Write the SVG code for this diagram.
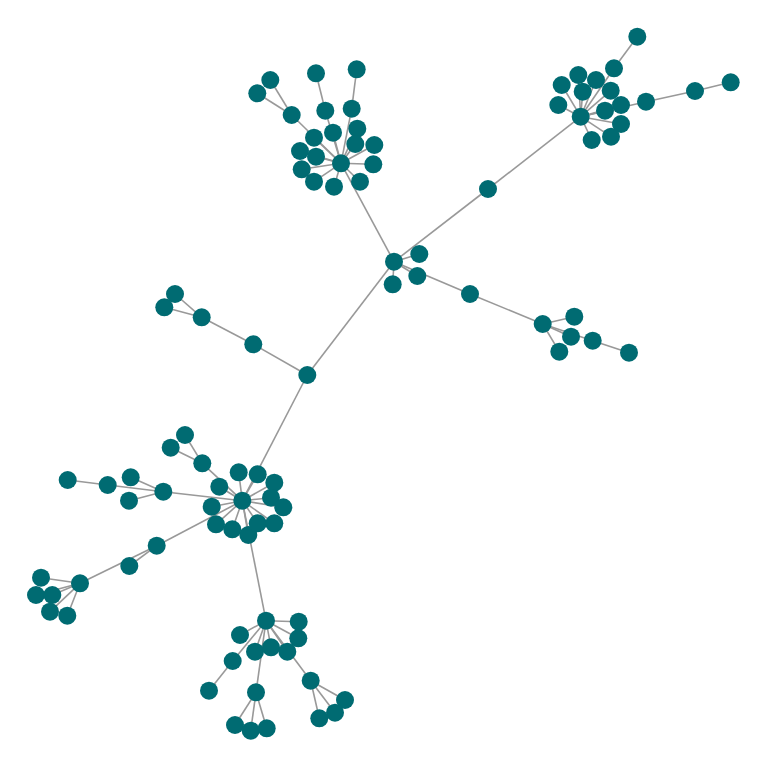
<svg xmlns="http://www.w3.org/2000/svg" width="768" height="768" viewBox="0 0 768 768">
<style>
.e{stroke:#999;stroke-width:1.6;fill:none}
.n{fill:#006b72}
</style>
<rect width="768" height="768" fill="#fff"/>
<g id="connectors" class="e">
<line x1="394" y1="261.7" x2="341" y2="163.3"/>
<line x1="394" y1="261.7" x2="488" y2="189"/>
<line x1="488" y1="189" x2="580.7" y2="116.7"/>
<line x1="394" y1="261.7" x2="419.3" y2="254"/>
<line x1="394" y1="261.7" x2="392.7" y2="284.3"/>
<line x1="394" y1="261.7" x2="417.3" y2="276"/>
<line x1="394" y1="261.7" x2="470" y2="294"/>
<line x1="394" y1="261.7" x2="307.3" y2="375"/>
<line x1="470" y1="294" x2="542.7" y2="324"/>
<line x1="542.7" y1="324" x2="574.3" y2="316.7"/>
<line x1="542.7" y1="324" x2="571" y2="336.7"/>
<line x1="542.7" y1="324" x2="559.3" y2="351.7"/>
<line x1="542.7" y1="324" x2="592.7" y2="340.7"/>
<line x1="592.7" y1="340.7" x2="629" y2="352.7"/>
<line x1="307.3" y1="375" x2="253.3" y2="344.3"/>
<line x1="253.3" y1="344.3" x2="201.7" y2="317.3"/>
<line x1="201.7" y1="317.3" x2="175" y2="294"/>
<line x1="201.7" y1="317.3" x2="164.3" y2="307.3"/>
<line x1="307.3" y1="375" x2="242.3" y2="500.7"/>
<line x1="341" y1="163.3" x2="291.7" y2="115"/>
<line x1="291.7" y1="115" x2="270.3" y2="80"/>
<line x1="291.7" y1="115" x2="257.3" y2="93.3"/>
<line x1="341" y1="163.3" x2="314" y2="137.7"/>
<line x1="341" y1="163.3" x2="325.3" y2="110.7"/>
<line x1="325.3" y1="110.7" x2="316" y2="73.3"/>
<line x1="341" y1="163.3" x2="333" y2="132.7"/>
<line x1="341" y1="163.3" x2="351.7" y2="108.7"/>
<line x1="351.7" y1="108.7" x2="356.7" y2="69.3"/>
<line x1="341" y1="163.3" x2="357.3" y2="128.7"/>
<line x1="341" y1="163.3" x2="355.3" y2="144"/>
<line x1="341" y1="163.3" x2="374.3" y2="145"/>
<line x1="341" y1="163.3" x2="300" y2="151"/>
<line x1="341" y1="163.3" x2="316" y2="156.7"/>
<line x1="341" y1="163.3" x2="373.3" y2="164.3"/>
<line x1="341" y1="163.3" x2="301.7" y2="169.3"/>
<line x1="341" y1="163.3" x2="314" y2="181.7"/>
<line x1="341" y1="163.3" x2="334" y2="186.7"/>
<line x1="341" y1="163.3" x2="360" y2="181.7"/>
<line x1="580.7" y1="116.7" x2="614" y2="68.3"/>
<line x1="614" y1="68.3" x2="637.3" y2="36.7"/>
<line x1="580.7" y1="116.7" x2="578.3" y2="75"/>
<line x1="580.7" y1="116.7" x2="596" y2="80"/>
<line x1="580.7" y1="116.7" x2="561.7" y2="85"/>
<line x1="580.7" y1="116.7" x2="582.7" y2="91.7"/>
<line x1="580.7" y1="116.7" x2="610.7" y2="90.7"/>
<line x1="580.7" y1="116.7" x2="558.3" y2="105"/>
<line x1="580.7" y1="116.7" x2="605" y2="110.7"/>
<line x1="580.7" y1="116.7" x2="621" y2="105"/>
<line x1="580.7" y1="116.7" x2="646" y2="101.7"/>
<line x1="646" y1="101.7" x2="695" y2="91"/>
<line x1="695" y1="91" x2="730.7" y2="82.3"/>
<line x1="580.7" y1="116.7" x2="621" y2="124"/>
<line x1="580.7" y1="116.7" x2="591.7" y2="140"/>
<line x1="580.7" y1="116.7" x2="611" y2="136.7"/>
<line x1="242.3" y1="500.7" x2="202.3" y2="463.3"/>
<line x1="202.3" y1="463.3" x2="185" y2="435"/>
<line x1="202.3" y1="463.3" x2="170.7" y2="447.7"/>
<line x1="242.3" y1="500.7" x2="163.3" y2="491.7"/>
<line x1="163.3" y1="491.7" x2="107.7" y2="485"/>
<line x1="107.7" y1="485" x2="67.7" y2="480"/>
<line x1="163.3" y1="491.7" x2="130.7" y2="477.3"/>
<line x1="163.3" y1="491.7" x2="129" y2="500.7"/>
<line x1="242.3" y1="500.7" x2="219.3" y2="486.7"/>
<line x1="242.3" y1="500.7" x2="238.7" y2="472.3"/>
<line x1="242.3" y1="500.7" x2="257.7" y2="474.3"/>
<line x1="242.3" y1="500.7" x2="274.3" y2="482.7"/>
<line x1="242.3" y1="500.7" x2="211.7" y2="506.7"/>
<line x1="242.3" y1="500.7" x2="271" y2="497.7"/>
<line x1="242.3" y1="500.7" x2="283.3" y2="507.3"/>
<line x1="242.3" y1="500.7" x2="216" y2="524.3"/>
<line x1="242.3" y1="500.7" x2="232.3" y2="529.3"/>
<line x1="242.3" y1="500.7" x2="248.3" y2="535"/>
<line x1="242.3" y1="500.7" x2="257.7" y2="523.3"/>
<line x1="242.3" y1="500.7" x2="274.3" y2="523.3"/>
<line x1="242.3" y1="500.7" x2="156.7" y2="545.7"/>
<line x1="156.7" y1="545.7" x2="129.3" y2="566"/>
<line x1="156.7" y1="545.7" x2="80" y2="583.3"/>
<line x1="80" y1="583.3" x2="41" y2="577.7"/>
<line x1="80" y1="583.3" x2="36" y2="595"/>
<line x1="80" y1="583.3" x2="52.3" y2="595"/>
<line x1="80" y1="583.3" x2="50" y2="611.7"/>
<line x1="80" y1="583.3" x2="67.3" y2="615.7"/>
<line x1="242.3" y1="500.7" x2="266" y2="620.7"/>
<line x1="266" y1="620.7" x2="240" y2="635"/>
<line x1="266" y1="620.7" x2="298.7" y2="621.7"/>
<line x1="266" y1="620.7" x2="298.3" y2="638.3"/>
<line x1="266" y1="620.7" x2="255" y2="651.7"/>
<line x1="266" y1="620.7" x2="271" y2="647.3"/>
<line x1="266" y1="620.7" x2="287.3" y2="651.7"/>
<line x1="266" y1="620.7" x2="232.7" y2="661"/>
<line x1="232.7" y1="661" x2="209" y2="690.7"/>
<line x1="266" y1="620.7" x2="256" y2="692.3"/>
<line x1="256" y1="692.3" x2="235" y2="725"/>
<line x1="256" y1="692.3" x2="250.7" y2="730.7"/>
<line x1="256" y1="692.3" x2="266.7" y2="728.3"/>
<line x1="266" y1="620.7" x2="310.7" y2="680.7"/>
<line x1="310.7" y1="680.7" x2="345" y2="700"/>
<line x1="310.7" y1="680.7" x2="335" y2="712.7"/>
<line x1="310.7" y1="680.7" x2="319.3" y2="718.3"/>
</g>
<g id="nodes" class="n">
<circle id="c" cx="394" cy="261.7" r="9"/>
<circle id="c1" cx="419.3" cy="254" r="9"/>
<circle id="c2" cx="392.7" cy="284.3" r="9"/>
<circle id="c3" cx="417.3" cy="276" r="9"/>
<circle id="c4" cx="470" cy="294" r="9"/>
<circle id="c5" cx="488" cy="189" r="9"/>
<circle id="r0" cx="542.7" cy="324" r="9"/>
<circle id="r1" cx="574.3" cy="316.7" r="9"/>
<circle id="r2" cx="559.3" cy="351.7" r="9"/>
<circle id="r3" cx="571" cy="336.7" r="9"/>
<circle id="r4" cx="592.7" cy="340.7" r="9"/>
<circle id="r5" cx="629" cy="352.7" r="9"/>
<circle id="m0" cx="307.3" cy="375" r="9"/>
<circle id="m1" cx="253.3" cy="344.3" r="9"/>
<circle id="m2" cx="201.7" cy="317.3" r="9"/>
<circle id="m3" cx="175" cy="294" r="9"/>
<circle id="m4" cx="164.3" cy="307.3" r="9"/>
<circle id="a1" cx="270.3" cy="80" r="9"/>
<circle id="a2" cx="257.3" cy="93.3" r="9"/>
<circle id="a3" cx="291.7" cy="115" r="9"/>
<circle id="a4" cx="316" cy="73.3" r="9"/>
<circle id="a5" cx="325.3" cy="110.7" r="9"/>
<circle id="a6" cx="356.7" cy="69.3" r="9"/>
<circle id="a7" cx="351.7" cy="108.7" r="9"/>
<circle id="a8" cx="314" cy="137.7" r="9"/>
<circle id="a9" cx="333" cy="132.7" r="9"/>
<circle id="a10" cx="357.3" cy="128.7" r="9"/>
<circle id="a11" cx="355.3" cy="144" r="9"/>
<circle id="a12" cx="374.3" cy="145" r="9"/>
<circle id="a13" cx="300" cy="151" r="9"/>
<circle id="a14" cx="316" cy="156.7" r="9"/>
<circle id="a15" cx="373.3" cy="164.3" r="9"/>
<circle id="a16" cx="301.7" cy="169.3" r="9"/>
<circle id="a17" cx="314" cy="181.7" r="9"/>
<circle id="a18" cx="334" cy="186.7" r="9"/>
<circle id="a19" cx="360" cy="181.7" r="9"/>
<circle id="a0" cx="341" cy="163.3" r="9"/>
<circle id="b1" cx="637.3" cy="36.7" r="9"/>
<circle id="b2" cx="614" cy="68.3" r="9"/>
<circle id="b3" cx="578.3" cy="75" r="9"/>
<circle id="b4" cx="596" cy="80" r="9"/>
<circle id="b5" cx="561.7" cy="85" r="9"/>
<circle id="b6" cx="582.7" cy="91.7" r="9"/>
<circle id="b7" cx="610.7" cy="90.7" r="9"/>
<circle id="b8" cx="558.3" cy="105" r="9"/>
<circle id="b9" cx="605" cy="110.7" r="9"/>
<circle id="b10" cx="621" cy="105" r="9"/>
<circle id="b11" cx="646" cy="101.7" r="9"/>
<circle id="b12" cx="695" cy="91" r="9"/>
<circle id="b13" cx="730.7" cy="82.3" r="9"/>
<circle id="b14" cx="621" cy="124" r="9"/>
<circle id="b15" cx="591.7" cy="140" r="9"/>
<circle id="b16" cx="611" cy="136.7" r="9"/>
<circle id="b0" cx="580.7" cy="116.7" r="9"/>
<circle id="d1" cx="185" cy="435" r="9"/>
<circle id="d2" cx="170.7" cy="447.7" r="9"/>
<circle id="d3" cx="202.3" cy="463.3" r="9"/>
<circle id="d4" cx="163.3" cy="491.7" r="9"/>
<circle id="d5" cx="107.7" cy="485" r="9"/>
<circle id="d6" cx="67.7" cy="480" r="9"/>
<circle id="d7" cx="130.7" cy="477.3" r="9"/>
<circle id="d8" cx="129" cy="500.7" r="9"/>
<circle id="d9" cx="219.3" cy="486.7" r="9"/>
<circle id="d10" cx="238.7" cy="472.3" r="9"/>
<circle id="d11" cx="257.7" cy="474.3" r="9"/>
<circle id="d12" cx="274.3" cy="482.7" r="9"/>
<circle id="d13" cx="211.7" cy="506.7" r="9"/>
<circle id="d14" cx="271" cy="497.7" r="9"/>
<circle id="d15" cx="283.3" cy="507.3" r="9"/>
<circle id="d16" cx="216" cy="524.3" r="9"/>
<circle id="d17" cx="232.3" cy="529.3" r="9"/>
<circle id="d18" cx="248.3" cy="535" r="9"/>
<circle id="d19" cx="257.7" cy="523.3" r="9"/>
<circle id="d20" cx="274.3" cy="523.3" r="9"/>
<circle id="d0" cx="242.3" cy="500.7" r="9"/>
<circle id="e1" cx="156.7" cy="545.7" r="9"/>
<circle id="e2" cx="129.3" cy="566" r="9"/>
<circle id="e0" cx="80" cy="583.3" r="9"/>
<circle id="e3" cx="41" cy="577.7" r="9"/>
<circle id="e4" cx="36" cy="595" r="9"/>
<circle id="e5" cx="52.3" cy="595" r="9"/>
<circle id="e6" cx="50" cy="611.7" r="9"/>
<circle id="e7" cx="67.3" cy="615.7" r="9"/>
<circle id="f0" cx="266" cy="620.7" r="9"/>
<circle id="f1" cx="240" cy="635" r="9"/>
<circle id="f2" cx="298.7" cy="621.7" r="9"/>
<circle id="f3" cx="298.3" cy="638.3" r="9"/>
<circle id="f4" cx="255" cy="651.7" r="9"/>
<circle id="f5" cx="271" cy="647.3" r="9"/>
<circle id="f6" cx="287.3" cy="651.7" r="9"/>
<circle id="f7" cx="232.7" cy="661" r="9"/>
<circle id="f8" cx="209" cy="690.7" r="9"/>
<circle id="f9" cx="256" cy="692.3" r="9"/>
<circle id="f10" cx="235" cy="725" r="9"/>
<circle id="f11" cx="250.7" cy="730.7" r="9"/>
<circle id="f12" cx="266.7" cy="728.3" r="9"/>
<circle id="f13" cx="310.7" cy="680.7" r="9"/>
<circle id="f14" cx="345" cy="700" r="9"/>
<circle id="f15" cx="335" cy="712.7" r="9"/>
<circle id="f16" cx="319.3" cy="718.3" r="9"/>
</g>
</svg>
